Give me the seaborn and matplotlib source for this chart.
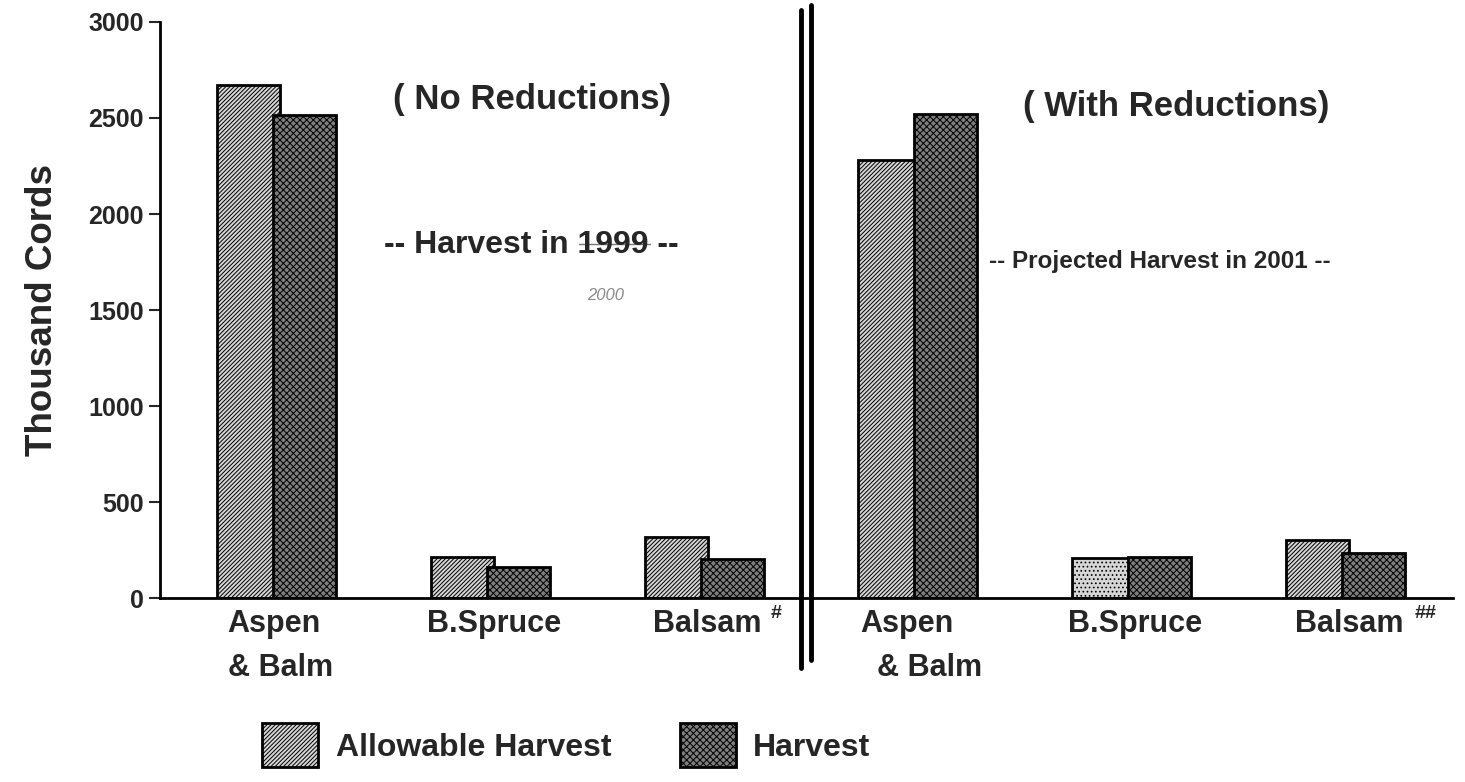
import numpy as np
import pandas as pd
import matplotlib
matplotlib.use("Agg")
import matplotlib.pyplot as plt
from matplotlib.patches import Patch
import seaborn as sns

# datos (miles de cuerdas)
grupos = ["aspen_99", "spruce_99", "balsam_99", "aspen_01", "spruce_01", "balsam_01"]
etiquetas = ["Aspen\n& Balm", "B.Spruce", "Balsam", "Aspen\n  & Balm", "B.Spruce", "Balsam"]
series = ["Allowable Harvest", "Harvest"]
permitido = [2672, 213, 318, 2281, 212, 302]
cosechado = [2516, 163, 206, 2521, 214, 234]

df = pd.DataFrame({
    "grupo": grupos * 2,
    "serie": [series[0]] * 6 + [series[1]] * 6,
    "valor": permitido + cosechado,
})

sns.set_theme(style="white")
plt.rcParams["font.family"] = ["Liberation Sans", "DejaVu Sans"]
plt.rcParams["font.weight"] = "bold"
plt.rcParams["hatch.linewidth"] = 0.7

color_perm = "#d6d6d6"
color_cos = "#7e7e7e"

fig = plt.figure(figsize=(14.65, 7.82), dpi=100)
ax = fig.add_axes([0.109, 0.235, 0.883, 0.737])

sns.barplot(data=df, x="grupo", y="valor", hue="serie", order=grupos,
            hue_order=series, width=0.59, palette=[color_perm, color_cos],
            edgecolor="black", linewidth=2, legend=False, ax=ax)

# patrones de relleno, como en el original
for i, bar in enumerate(ax.containers[0]):
    bar.set_hatch("////////" if i != 4 else "....")
for bar in ax.containers[1]:
    bar.set_hatch("xxxxx")
    bar.set_x(bar.get_x() - 0.033)

ax.set_xlim(-0.564, 5.489)
ax.set_ylim(0, 3000)
ax.set_yticks(range(0, 3001, 500))
ax.set_xticks(range(6))
ax.set_xticklabels(etiquetas, multialignment="left", linespacing=1.6)
ax.tick_params(axis="y", length=8, width=1.5, labelsize=18, direction="out", left=True)
ax.tick_params(axis="x", length=0, labelsize=22, pad=8)
ax.set_xlabel("")
ax.set_ylabel("Thousand Cords", fontsize=26.5, fontweight="bold", labelpad=20)
sns.despine(ax=ax)
for lado in ["left", "bottom"]:
    ax.spines[lado].set_linewidth(2)
    ax.spines[lado].set_color("black")

# superindices junto a Balsam
lbls = ax.get_xticklabels()
ax.annotate("#", xy=(1, 1), xycoords=lbls[2], xytext=(6, 3), textcoords="offset points",
            fontsize=14, ha="left", va="top")
ax.annotate("##", xy=(1, 1), xycoords=lbls[5], xytext=(8, 3), textcoords="offset points",
            fontsize=14, ha="left", va="top")

# linea doble que separa los dos periodos
ax.plot([2.437, 2.437], [-365, 3063], color="black", lw=3.5, clip_on=False)
ax.plot([2.484, 2.484], [-323, 3089], color="black", lw=3.5, clip_on=False)

ax.text(1.178, 2594, "( No Reductions)", fontsize=25, ha="center", va="center")
ax.text(4.193, 2562, "( With Reductions)", fontsize=25, ha="center", va="center")
ax.text(1.173, 1839, "-- Harvest in 1999 --", fontsize=23, ha="center", va="center")
ax.text(4.118, 1755, "-- Projected Harvest in 2001 --", fontsize=17.5, ha="center", va="center")
ax.plot([1.40, 1.73], [1845, 1845], color="#777777", lw=1)
ax.text(1.524, 1578, "2000", fontsize=12, fontweight="normal", style="italic",
        color="#8a8a8a", ha="center", va="center")

handles = [Patch(facecolor=color_perm, edgecolor="black", hatch="////////", linewidth=2),
           Patch(facecolor=color_cos, edgecolor="black", hatch="xxxxx", linewidth=2)]
fig.legend(handles, series, loc="center left", bbox_to_anchor=(0.179, 0.047),
           ncol=2, frameon=False, fontsize=23, handlelength=1.75, handleheight=1.75,
           handletextpad=0.55, columnspacing=2.15, borderpad=0, borderaxespad=0)

fig.savefig("out.png", dpi=100)
